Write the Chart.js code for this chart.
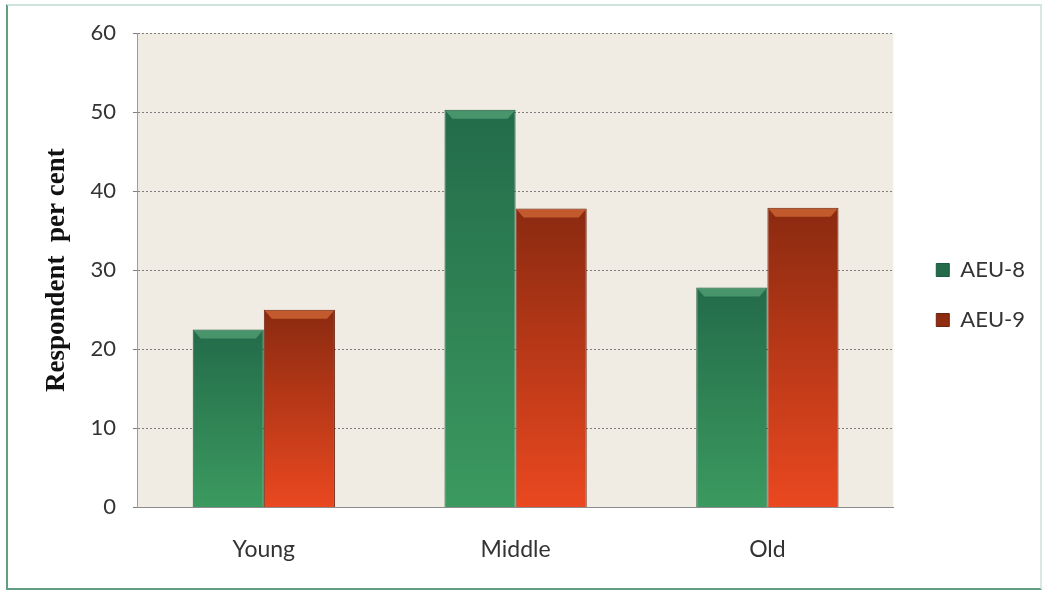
<!DOCTYPE html>
<html>
<head>
<meta charset="utf-8">
<script src="https://cdn.jsdelivr.net/npm/chart.js@4"></script>
<style>
  html, body { margin: 0; padding: 0; background: #fff; }
  #wrap { position: relative; width: 1043px; height: 591px; }
  #frame {
    position: absolute; left: 6px; top: 4px; width: 1032px; height: 582px;
    border: 2px solid #5f9e80; border-top-color: #cfe3da; border-right-color: #d8e8e0;
    pointer-events: none;
  }
  canvas { position: absolute; left: 0; top: 0; }
</style>
</head>
<body>
<div id="wrap">
  <canvas id="ageChart" width="1043" height="591"></canvas>
  <div id="frame"></div>
</div>
<script>
// Age groups and respondent share (per cent) for each centre
const categories = ['Young', 'Middle', 'Old'];
const aeu8 = [22.5, 50.3, 27.8];
const aeu9 = [25.0, 37.8, 37.9];
const yTicks = [0, 10, 20, 30, 40, 50, 60];

// vertical gradient running over a single bar
function barGradient(top, bottom) {
  return function(ctx) {
    const chart = ctx.chart;
    if (!chart.chartArea || ctx.raw === undefined) return bottom;
    const y = chart.scales.y;
    const y0 = y.getPixelForValue(ctx.raw);
    const y1 = y.getPixelForValue(0);
    const g = chart.ctx.createLinearGradient(0, y0, 0, y1);
    g.addColorStop(0, top);
    g.addColorStop(1, bottom);
    return g;
  };
}

// beige plot background
const plotBg = {
  id: 'plotBg',
  beforeDraw(chart) {
    const a = chart.chartArea;
    const c = chart.ctx;
    c.save();
    c.fillStyle = '#f1ece3';
    c.fillRect(a.left, a.top, a.right - a.left, a.bottom - a.top);
    c.restore();
  }
};

// push the legend away from the plot and up a little
const legendShift = {
  id: 'legendShift',
  afterLayout(chart) {
    const lg = chart.legend;
    if (!lg) return;
    lg.left += 15;
    lg.right += 15;
    lg.top -= 13;
    lg.bottom -= 13;
  }
};

// bevelled top edge on every bar
const bevel = {
  id: 'bevel',
  afterDatasetsDraw(chart) {
    const c = chart.ctx;
    const light = ['rgba(110,190,140,0.5)', 'rgba(240,130,70,0.55)'];
    chart.data.datasets.forEach((ds, i) => {
      chart.getDatasetMeta(i).data.forEach(bar => {
        const l = bar.x - bar.width / 2 + 1, r = bar.x + bar.width / 2 - 1, t = bar.y + 1;
        c.save();
        c.fillStyle = light[i];
        c.beginPath();
        c.moveTo(l, t);
        c.lineTo(r, t);
        c.lineTo(r - 7, t + 8);
        c.lineTo(l + 7, t + 8);
        c.closePath();
        c.fill();
        c.restore();
      });
    });
  }
};

new Chart(document.getElementById('ageChart'), {
  type: 'bar',
  data: {
    labels: categories,
    datasets: [
      {
        label: 'AEU-8',
        data: aeu8,
        backgroundColor: barGradient('#236b4a', '#3b9a5f'),
        borderColor: '#1d5a3e',
        borderWidth: 1
      },
      {
        label: 'AEU-9',
        data: aeu9,
        backgroundColor: barGradient('#8a2a10', '#ea4820'),
        borderColor: '#6e2410',
        borderWidth: 1
      }
    ]
  },
  options: {
    responsive: false,
    animation: false,
    layout: { padding: { top: 33, right: 23, bottom: 8, left: 41 } },
    datasets: {
      bar: { categoryPercentage: 0.565, barPercentage: 1 }
    },
    plugins: {
      legend: {
        position: 'right',
        labels: {
          font: { family: 'Lato', size: 22 },
          color: '#333',
          boxWidth: 13,
          boxHeight: 13,
          padding: 28
        }
      },
      tooltip: { enabled: false }
    },
    scales: {
      x: {
        grid: { display: false },
        border: { color: '#8c8c8c' },
        ticks: { font: { family: 'Lato', size: 23 }, color: '#333', padding: 20 }
      },
      y: {
        min: 0,
        max: 60,
        afterBuildTicks(axis) { axis.ticks = yTicks.map(v => ({ value: v })); },
        grid: { color: '#7e7e7e', tickLength: 5, tickColor: '#7e7e7e' },
        border: { color: '#9a9a9a', dash: [2, 2] },
        ticks: { font: { family: 'Lato', size: 22 }, color: '#333', padding: 17 },
        title: {
          display: true,
          text: 'Respondent  per cent',
          font: { family: 'Liberation Serif', size: 27, weight: 'bold' },
          color: '#111',
          padding: { top: 0, bottom: 0 }
        }
      }
    }
  },
  plugins: [plotBg, legendShift, bevel]
});
</script>
</body>
</html>
